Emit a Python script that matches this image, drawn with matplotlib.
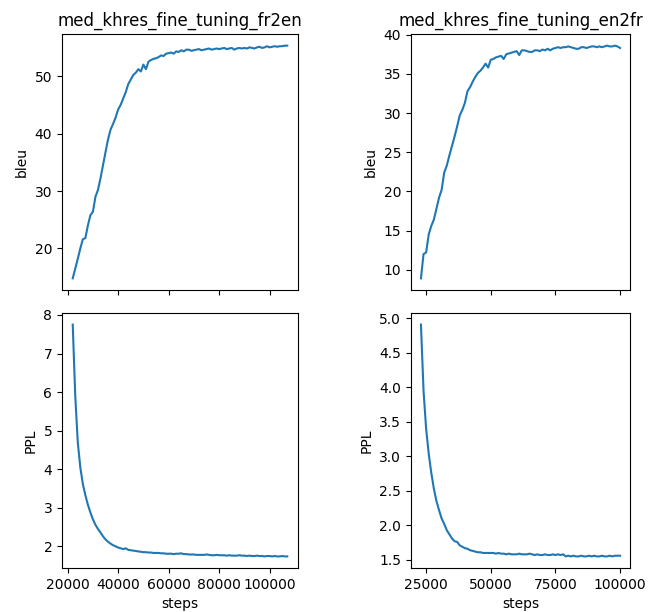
import matplotlib
matplotlib.use("Agg")
import matplotlib.pyplot as plt
from matplotlib.ticker import MultipleLocator

# fr2en: evaluated every 1000 steps from 22000 to 107000
steps_fr2en = list(range(22000, 108000, 1000))
bleu_fr2en = [14.8, 16.5, 18.2, 20.0, 21.6, 21.8, 24.0, 25.8, 26.4, 29.0,
              30.2, 32.2, 34.5, 36.8, 39.0, 40.7, 41.7, 42.8, 44.2, 45.0,
              46.1, 47.2, 48.6, 49.4, 50.2, 50.6, 51.2, 50.8, 52.0, 51.2,
              52.5, 52.8, 53.0, 53.1, 53.3, 53.6, 53.5, 53.9, 54.0, 54.1,
              53.9, 54.3, 54.2, 54.5, 54.3, 54.6, 54.6, 54.4, 54.5, 54.6,
              54.7, 54.5, 54.6, 54.7, 54.8, 54.6, 54.7, 54.8, 54.7, 54.8,
              54.9, 54.7, 54.8, 54.9, 54.6, 54.8, 54.9, 54.8, 54.9, 54.8,
              55.0, 54.9, 54.8, 55.0, 55.1, 54.9, 55.0, 55.2, 55.0, 55.1,
              55.2, 55.1, 55.2, 55.2, 55.3, 55.3]
ppl_fr2en = [7.75, 5.90, 4.70, 4.05, 3.62, 3.33, 3.08, 2.88, 2.70, 2.56,
             2.45, 2.36, 2.26, 2.18, 2.12, 2.07, 2.03, 2.00, 1.97, 1.95,
             1.93, 1.95, 1.91, 1.90, 1.89, 1.88, 1.87, 1.86, 1.85, 1.85,
             1.84, 1.84, 1.83, 1.83, 1.83, 1.82, 1.82, 1.81, 1.81, 1.81,
             1.80, 1.81, 1.81, 1.82, 1.80, 1.80, 1.79, 1.79, 1.79, 1.78,
             1.78, 1.78, 1.78, 1.79, 1.78, 1.77, 1.77, 1.78, 1.77, 1.77,
             1.77, 1.76, 1.77, 1.76, 1.76, 1.76, 1.77, 1.76, 1.76, 1.75,
             1.76, 1.75, 1.75, 1.76, 1.75, 1.75, 1.74, 1.75, 1.75, 1.74,
             1.75, 1.74, 1.74, 1.75, 1.74, 1.74]

# en2fr: evaluated every 1000 steps from 23000 to 100000
steps_en2fr = list(range(23000, 101000, 1000))
bleu_en2fr = [8.9, 12.0, 12.2, 14.5, 15.6, 16.4, 17.8, 19.2, 20.2, 22.4,
              23.3, 24.6, 25.8, 27.0, 28.3, 29.7, 30.4, 31.3, 32.8, 33.3,
              34.0, 34.6, 35.1, 35.4, 35.8, 36.3, 35.8, 36.8, 36.9, 37.1,
              37.2, 37.3, 36.9, 37.5, 37.6, 37.7, 37.8, 37.9, 37.4, 38.0,
              38.0, 37.9, 37.8, 37.8, 38.0, 38.0, 37.9, 38.1, 38.0, 38.2,
              38.0, 38.2, 38.3, 38.4, 38.3, 38.4, 38.4, 38.5, 38.4, 38.3,
              38.2, 38.2, 38.4, 38.4, 38.3, 38.4, 38.5, 38.5, 38.4, 38.5,
              38.4, 38.5, 38.6, 38.5, 38.5, 38.6, 38.5, 38.3]
ppl_en2fr = [4.91, 3.95, 3.40, 3.04, 2.76, 2.53, 2.35, 2.22, 2.10, 2.02,
             1.93, 1.87, 1.81, 1.77, 1.76, 1.71, 1.69, 1.67, 1.66, 1.64,
             1.63, 1.62, 1.61, 1.61, 1.60, 1.60, 1.60, 1.60, 1.60, 1.59,
             1.60, 1.59, 1.59, 1.58, 1.59, 1.58, 1.58, 1.58, 1.59, 1.58,
             1.58, 1.58, 1.59, 1.58, 1.57, 1.58, 1.57, 1.57, 1.58, 1.57,
             1.57, 1.58, 1.57, 1.58, 1.57, 1.58, 1.55, 1.56, 1.55, 1.56,
             1.55, 1.55, 1.56, 1.55, 1.55, 1.56, 1.55, 1.56, 1.55, 1.55,
             1.56, 1.55, 1.55, 1.56, 1.55, 1.56, 1.56, 1.56]

fig, axes = plt.subplots(2, 2, sharex='col', figsize=(6.66, 6.12), dpi=100)

axes[0, 0].plot(steps_fr2en, bleu_fr2en)
axes[0, 0].set_title("med_khres_fine_tuning_fr2en")
axes[0, 0].set_ylabel("bleu")
axes[0, 0].yaxis.set_major_locator(MultipleLocator(10))
axes[1, 0].plot(steps_fr2en, ppl_fr2en)
axes[1, 0].set_ylabel("PPL")
axes[1, 0].set_xlabel("steps")
axes[1, 0].xaxis.set_major_locator(MultipleLocator(20000))

axes[0, 1].plot(steps_en2fr, bleu_en2fr)
axes[0, 1].set_title("med_khres_fine_tuning_en2fr")
axes[0, 1].set_ylabel("bleu")
axes[1, 1].plot(steps_en2fr, ppl_en2fr)
axes[1, 1].set_ylabel("PPL")
axes[1, 1].set_xlabel("steps")
axes[1, 1].xaxis.set_major_locator(MultipleLocator(25000))

# place axes to match the original layout (pixels -> figure fractions)
W, H = 666.0, 612.0
def place(ax, x0, x1, y0, y1):
    ax.set_position([x0 / W, 1 - y1 / H, (x1 - x0) / W, (y1 - y0) / H])

place(axes[0, 0], 62, 298, 34, 290)
place(axes[1, 0], 62, 298, 313, 568)
place(axes[0, 1], 411, 630, 34, 290)
place(axes[1, 1], 411, 630, 313, 568)

plt.savefig("out.png")
